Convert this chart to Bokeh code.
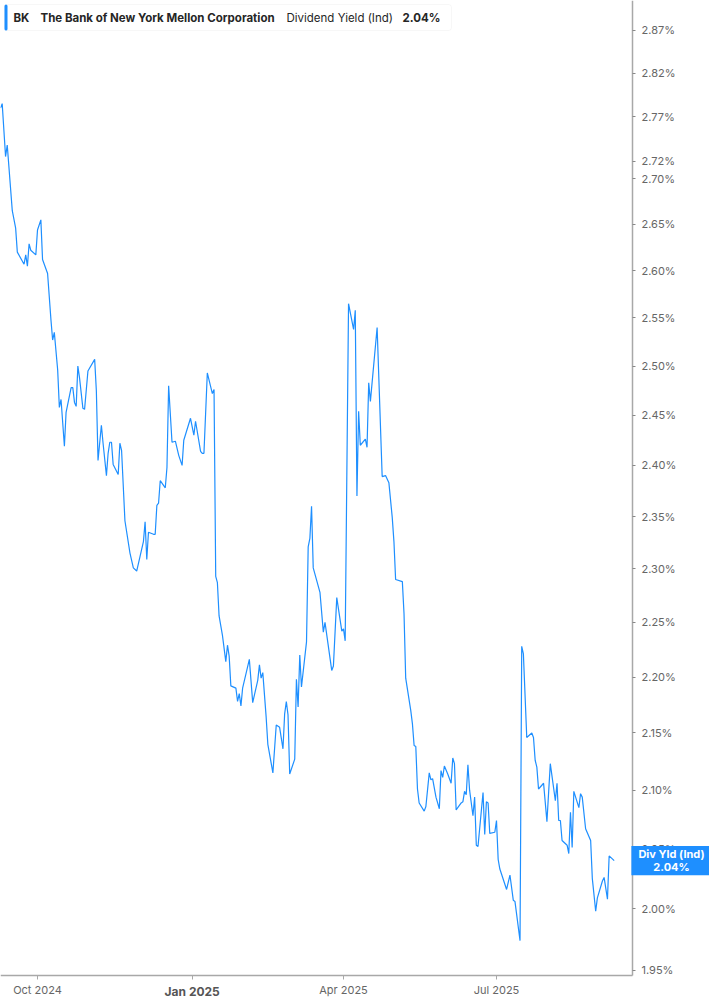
from bokeh.plotting import figure
from bokeh.models import Range1d, FixedTicker, PrintfTickFormatter, Label, BoxAnnotation, ColumnDataSource
from bokeh.embed import file_html
from bokeh.resources import INLINE
import math
import pandas as pd

# ---------------- data ----------------
dates = [
"2024-09-09","2024-09-10","2024-09-12","2024-09-13","2024-09-16","2024-09-18","2024-09-19","2024-09-23","2024-09-24","2024-09-25",
"2024-09-26","2024-09-27","2024-09-30","2024-10-01","2024-10-03","2024-10-04","2024-10-07","2024-10-09","2024-10-10","2024-10-11",
"2024-10-13","2024-10-14","2024-10-15","2024-10-17","2024-10-18","2024-10-21","2024-10-22","2024-10-23","2024-10-24","2024-10-25",
"2024-10-26","2024-10-28","2024-10-29","2024-10-31","2024-11-04","2024-11-05","2024-11-06","2024-11-08","2024-11-09","2024-11-11",
"2024-11-12","2024-11-13","2024-11-14","2024-11-15","2024-11-18","2024-11-19","2024-11-20","2024-11-22","2024-11-25","2024-11-27",
"2024-11-29","2024-12-01","2024-12-03","2024-12-04","2024-12-05","2024-12-06","2024-12-09","2024-12-10","2024-12-11","2024-12-12",
"2024-12-13","2024-12-16","2024-12-17","2024-12-18","2024-12-20","2024-12-22","2024-12-24","2024-12-26","2024-12-27","2024-12-31",
"2025-01-02","2025-01-03","2025-01-06","2025-01-07","2025-01-08","2025-01-10","2025-01-13","2025-01-14","2025-01-15","2025-01-16",
"2025-01-17","2025-01-19","2025-01-21","2025-01-22","2025-01-23","2025-01-24","2025-01-27","2025-01-28","2025-01-29","2025-01-30",
"2025-01-31","2025-02-04","2025-02-06","2025-02-09","2025-02-10","2025-02-11","2025-02-12","2025-02-14","2025-02-15","2025-02-18",
"2025-02-20","2025-02-22","2025-02-24","2025-02-25","2025-02-26","2025-02-27","2025-02-28","2025-03-03","2025-03-04","2025-03-05",
"2025-03-06","2025-03-07","2025-03-10","2025-03-11","2025-03-12","2025-03-13","2025-03-14","2025-03-18","2025-03-20","2025-03-21",
"2025-03-25","2025-03-26","2025-03-28","2025-03-31","2025-04-01","2025-04-02","2025-04-04","2025-04-07","2025-04-08","2025-04-09",
"2025-04-10","2025-04-11","2025-04-14","2025-04-15","2025-04-16","2025-04-17","2025-04-21","2025-04-24","2025-04-26","2025-04-28",
"2025-04-30","2025-05-01","2025-05-02","2025-05-06","2025-05-07","2025-05-08","2025-05-11","2025-05-12","2025-05-13","2025-05-14",
"2025-05-15","2025-05-16","2025-05-19","2025-05-20","2025-05-22","2025-05-23","2025-05-24","2025-05-26","2025-05-28","2025-05-29",
"2025-05-30","2025-05-31","2025-06-02","2025-06-04","2025-06-05","2025-06-06","2025-06-07","2025-06-10","2025-06-11","2025-06-12",
"2025-06-13","2025-06-14","2025-06-15","2025-06-17","2025-06-18","2025-06-19","2025-06-20","2025-06-23","2025-06-24","2025-06-25",
"2025-06-26","2025-06-27","2025-06-30","2025-07-01","2025-07-02","2025-07-03","2025-07-07","2025-07-09","2025-07-11","2025-07-12",
"2025-07-15","2025-07-16","2025-07-17","2025-07-19","2025-07-22","2025-07-23","2025-07-24","2025-07-25","2025-07-26","2025-07-29",
"2025-07-31","2025-08-02","2025-08-05","2025-08-06","2025-08-07","2025-08-08","2025-08-09","2025-08-12","2025-08-13","2025-08-14",
"2025-08-15","2025-08-16","2025-08-19","2025-08-20","2025-08-21","2025-08-23","2025-08-26","2025-08-27","2025-08-29","2025-08-30",
"2025-09-02","2025-09-03","2025-09-05","2025-09-06","2025-09-09",
]

div_yield = [
2.780, 2.785, 2.725, 2.738, 2.665, 2.646, 2.620, 2.607, 2.617, 2.605,
2.629, 2.622, 2.617, 2.644, 2.655, 2.612, 2.597, 2.548, 2.527, 2.535,
2.496, 2.458, 2.466, 2.419, 2.453, 2.478, 2.478, 2.463, 2.459, 2.500,
2.488, 2.457, 2.456, 2.495, 2.507, 2.475, 2.405, 2.440, 2.422, 2.390,
2.412, 2.423, 2.423, 2.401, 2.391, 2.422, 2.415, 2.346, 2.315, 2.301,
2.298, 2.312, 2.326, 2.345, 2.309, 2.335, 2.333, 2.333, 2.361, 2.363,
2.385, 2.378, 2.398, 2.480, 2.423, 2.424, 2.410, 2.400, 2.425, 2.447,
2.430, 2.444, 2.414, 2.412, 2.412, 2.493, 2.472, 2.476, 2.293, 2.287,
2.256, 2.238, 2.214, 2.229, 2.219, 2.192, 2.190, 2.178, 2.185, 2.174,
2.190, 2.216, 2.177, 2.197, 2.211, 2.199, 2.204, 2.164, 2.140, 2.115,
2.157, 2.155, 2.136, 2.167, 2.178, 2.166, 2.114, 2.127, 2.198, 2.173,
2.220, 2.191, 2.232, 2.321, 2.329, 2.360, 2.301, 2.278, 2.241, 2.250,
2.206, 2.210, 2.273, 2.242, 2.244, 2.233, 2.565, 2.538, 2.558, 2.370,
2.454, 2.420, 2.426, 2.418, 2.483, 2.464, 2.540, 2.389, 2.390, 2.383,
2.349, 2.326, 2.290, 2.288, 2.258, 2.199, 2.170, 2.158, 2.139, 2.138,
2.101, 2.089, 2.082, 2.086, 2.115, 2.109, 2.110, 2.094, 2.084, 2.117,
2.111, 2.121, 2.114, 2.106, 2.128, 2.123, 2.083, 2.089, 2.090, 2.099,
2.096, 2.122, 2.100, 2.078, 2.094, 2.053, 2.052, 2.098, 2.062, 2.090,
2.089, 2.063, 2.064, 2.074, 2.041, 2.033, 2.016, 2.028, 2.007, 2.006,
1.974, 2.228, 2.221, 2.146, 2.150, 2.146, 2.126, 2.120, 2.101, 2.106,
2.073, 2.123, 2.091, 2.106, 2.074, 2.074, 2.057, 2.053, 2.046, 2.081,
2.051, 2.099, 2.085, 2.097, 2.094, 2.067, 2.057, 2.025, 1.998, 2.009,
2.023, 2.026, 2.008, 2.044, 2.040,
]

x_tick_dates = ["2024-10-01", "2025-01-01", "2025-04-01", "2025-07-01"]
x_tick_labels = ["Oct 2024", "Jan 2025", "Apr 2025", "Jul 2025"]
y_ticks = [1.95, 2.00, 2.05, 2.10, 2.15, 2.20, 2.25, 2.30, 2.35, 2.40, 2.45,
           2.50, 2.55, 2.60, 2.65, 2.70, 2.72, 2.77, 2.82, 2.87]

ticker_symbol = "BK"
company_name = "The Bank of New York Mellon Corporation"
metric_name = "Dividend Yield (Ind)"
metric_short = "Div Yld (Ind)"

# ---------------- layout / styling ----------------
BLUE = "#1e8fff"
AXIS_GRAY = "#a8a8a8"
LABEL_GRAY = "#666666"
FONT = "Inter"

W, H = 709, 997            # canvas == frame (axes are pinned inside it)
PLOT_R, PLOT_B = 632, 975  # pixel position of the right / bottom axis lines

# x: pixel <-> time (linear)
t_left = pd.Timestamp("2024-09-08 23:50")
px_per_day = 1.6813
def x_at(px):
    return t_left + pd.Timedelta(days=px / px_per_day)

# y: pixel <-> value (log)
y_top = 2.9056
px_per_ln = 2432.0
def y_at(py):
    return y_top * math.exp(-py / px_per_ln)

x_end, x_axis_pos = x_at(W), x_at(PLOT_R)
y_bottom, y_axis_pos = y_at(H), y_at(PLOT_B)

src = ColumnDataSource(dict(date=pd.to_datetime(dates), yld=div_yield))

p = figure(width=W, height=H, x_axis_type="datetime", y_axis_type="log",
           y_axis_location="right", output_backend="svg", toolbar_location=None,
           x_range=Range1d(t_left, x_end), y_range=Range1d(y_bottom, y_top),
           min_border=0, min_border_left=0, min_border_right=0,
           min_border_top=0, min_border_bottom=0)
p.outline_line_color = None
p.xgrid.visible = False
p.ygrid.visible = False
p.background_fill_color = "white"
p.border_fill_color = "white"

p.line("date", "yld", source=src, line_color=BLUE, line_width=1.2)

# y axis (right, log), pinned at the right edge of the data area
ya = p.yaxis[0]
ya.fixed_location = x_axis_pos.value / 1e6
ya.bounds = (y_axis_pos, y_top)
ya.ticker = FixedTicker(ticks=y_ticks, minor_ticks=[])
ya.formatter = PrintfTickFormatter(format="%.2f%%")
ya.axis_line_color = AXIS_GRAY
ya.axis_line_width = 1.5
ya.major_tick_line_color = "#888888"
ya.major_tick_out = 3
ya.major_tick_in = 0
ya.minor_tick_line_color = None
ya.major_label_standoff = 6
ya.major_label_text_font = FONT
ya.major_label_text_font_size = "11px"
ya.major_label_text_color = LABEL_GRAY

# x axis pinned at the bottom of the data area
tick_ms = [pd.Timestamp(d).value / 1e6 for d in x_tick_dates]
xa = p.xaxis[0]
xa.fixed_location = y_axis_pos
xa.bounds = (t_left, x_axis_pos)
xa.ticker = FixedTicker(ticks=tick_ms, minor_ticks=[])
overrides = {}
for ms, lab in zip(tick_ms, x_tick_labels):
    overrides[ms] = "" if lab.startswith("Jan") else lab
xa.major_label_overrides = overrides
xa.axis_line_color = AXIS_GRAY
xa.axis_line_width = 1.5
xa.major_tick_line_color = AXIS_GRAY
xa.major_tick_out = 4
xa.major_tick_in = 0
xa.minor_tick_line_color = None
xa.major_label_standoff = 3
xa.major_label_text_font = FONT
xa.major_label_text_font_size = "11px"
xa.major_label_text_color = LABEL_GRAY

# year label in bold
for ms, lab in zip(tick_ms, x_tick_labels):
    if lab.startswith("Jan"):
        p.add_layout(Label(x=ms, y=H - 990.5, x_units="data", y_units="screen", text=lab,
                           text_align="center", text_baseline="middle", text_font=FONT,
                           text_font_size="12px", text_font_style="bold", text_color="#555555"))

# legend box
p.add_layout(BoxAnnotation(left=4, right=451, top=H - 4, bottom=H - 30,
                           left_units="screen", right_units="screen", top_units="screen",
                           bottom_units="screen", fill_color="white", fill_alpha=1.0,
                           line_color="#e4e4e4", line_width=1, border_radius=3))
p.add_layout(BoxAnnotation(left=4, right=7, top=H - 4, bottom=H - 30,
                           left_units="screen", right_units="screen", top_units="screen",
                           bottom_units="screen", fill_color=BLUE, fill_alpha=1.0,
                           line_color=None, border_radius=2))
last_txt = f"{div_yield[-1]:.2f}%"
legend_parts = [(13, ticker_symbol, "bold"), (40, company_name, "bold"),
                (286, metric_name, "normal"), (402, last_txt, "bold")]
for xx, txt, st in legend_parts:
    p.add_layout(Label(x=xx, y=H - 17, x_units="screen", y_units="screen", text=txt,
                       text_align="left", text_baseline="middle", text_font=FONT,
                       text_font_size="11.5px", text_font_style=st, text_color="#262626"))

# last value box on the axis
p.add_layout(Label(x=671, y=div_yield[-1], x_units="screen", y_units="data",
                   text=f"{metric_short}\n{last_txt}", text_align="center",
                   text_baseline="middle", text_font=FONT, text_font_size="11px",
                   text_font_style="bold", text_color="white", text_line_height=0.95,
                   background_fill_color=BLUE, background_fill_alpha=1.0, padding=(7, 1)))

open("out.html", "w").write(file_html(p, INLINE))
